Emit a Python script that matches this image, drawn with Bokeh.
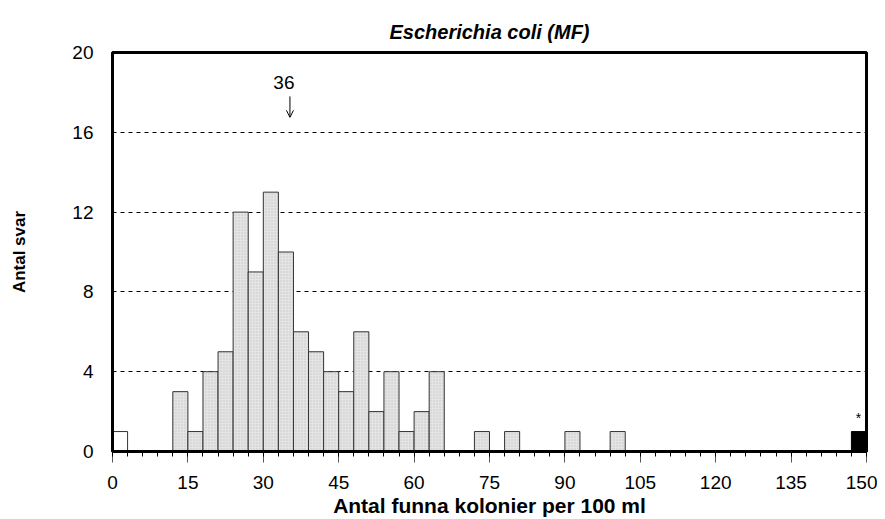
from bokeh.plotting import figure
from bokeh.models import (Range1d, FixedTicker, SingleIntervalTicker, Label, Arrow, OpenHead, Title)
from bokeh.embed import file_html
from bokeh.resources import INLINE

# ---- data ----
bin_width = 3
main_left = [12, 15, 18, 21, 24, 27, 30, 33, 36, 39, 42, 45, 48, 51, 54, 57, 60, 63, 72, 78, 90, 99]
main_count = [3, 1, 4, 5, 12, 9, 13, 10, 6, 5, 4, 3, 6, 2, 4, 1, 2, 4, 1, 1, 1, 1]
low_left = [0]
low_count = [1]
high_left = [147]
high_count = [1]
y_ticks = [0, 4, 8, 12, 16, 20]
median_value = 36
title_text = "Escherichia coli (MF)"
x_label = "Antal funna kolonier per 100 ml"
y_label = "Antal svar"

FONT = "Liberation Sans"

p = figure(width=877, height=519, output_backend="svg", toolbar_location=None,
           x_range=Range1d(0, 150), y_range=Range1d(0, 20),
           min_border_left=112, min_border_right=11, min_border_top=52, min_border_bottom=68,
           background_fill_color="white", border_fill_color="white")

# bars
p.quad(left=main_left, right=[v + bin_width for v in main_left], top=main_count, bottom=0,
       fill_color="#e4e4e4", hatch_pattern="dot", hatch_color="#c4c4c4", hatch_scale=3,
       hatch_weight=1, line_color="#333333", line_width=1)
p.quad(left=low_left, right=[v + bin_width for v in low_left], top=low_count, bottom=0,
       fill_color="white", line_color="#333333", line_width=1)
p.quad(left=high_left, right=[v + bin_width for v in high_left], top=high_count, bottom=0,
       fill_color="black", line_color="black", line_width=1)

# frame
p.outline_line_color = "black"
p.outline_line_width = 3
p.xgrid.grid_line_color = None
p.ygrid.ticker = FixedTicker(ticks=y_ticks)
p.ygrid.grid_line_color = "black"
p.ygrid.grid_line_dash = "4 4"
p.ygrid.grid_line_width = 1

# axes
xa = p.xaxis[0]
xa.ticker = SingleIntervalTicker(interval=15, num_minor_ticks=5)
xa.axis_line_width = 3
xa.axis_line_color = "black"
xa.major_tick_in = 0
xa.major_tick_out = 11
xa.major_tick_line_color = "#555555"
xa.minor_tick_in = 0
xa.minor_tick_out = 5
xa.minor_tick_line_color = "black"
xa.major_label_standoff = 13
xa.major_label_text_font = FONT
xa.major_label_text_font_size = "19px"
xa.major_label_text_color = "black"
xa.axis_label = x_label
xa.axis_label_standoff = 2
xa.axis_label_text_font = FONT
xa.axis_label_text_font_style = "bold"
xa.axis_label_text_font_size = "21px"
xa.axis_label_text_color = "black"

ya = p.yaxis[0]
ya.ticker = FixedTicker(ticks=y_ticks)
ya.axis_line_width = 3
ya.axis_line_color = "black"
ya.major_tick_in = 0
ya.major_tick_out = 0
ya.minor_tick_line_color = None
ya.major_label_standoff = 19
ya.major_label_text_font = FONT
ya.major_label_text_font_size = "19px"
ya.major_label_text_color = "black"
ya.axis_label = y_label
ya.axis_label_standoff = 40
ya.axis_label_text_font = FONT
ya.axis_label_text_font_style = "bold"
ya.axis_label_text_font_size = "17px"
ya.axis_label_text_color = "black"

# title
p.add_layout(Title(text=title_text, align="center", standoff=20,
                   text_font=FONT, text_font_style="bold italic", text_font_size="20px",
                   text_color="black"), "above")

# median marker
p.add_layout(Label(x=median_value - 1.9, y=18.5, text=str(median_value), text_align="center",
                   text_baseline="middle", text_font=FONT, text_font_size="19px",
                   text_color="black"))
p.add_layout(Arrow(x_start=median_value - 0.7, y_start=17.8, x_end=median_value - 0.7, y_end=16.75,
                   line_color="black", line_width=1,
                   end=OpenHead(size=7, line_color="black", line_width=1)))
# asterisk on outlier bar
p.add_layout(Label(x=148.4, y=1.7, text="*", text_align="center", text_baseline="middle",
                   text_font=FONT, text_font_size="14px", text_color="black"))

open("out.html", "w").write(file_html(p, INLINE))
